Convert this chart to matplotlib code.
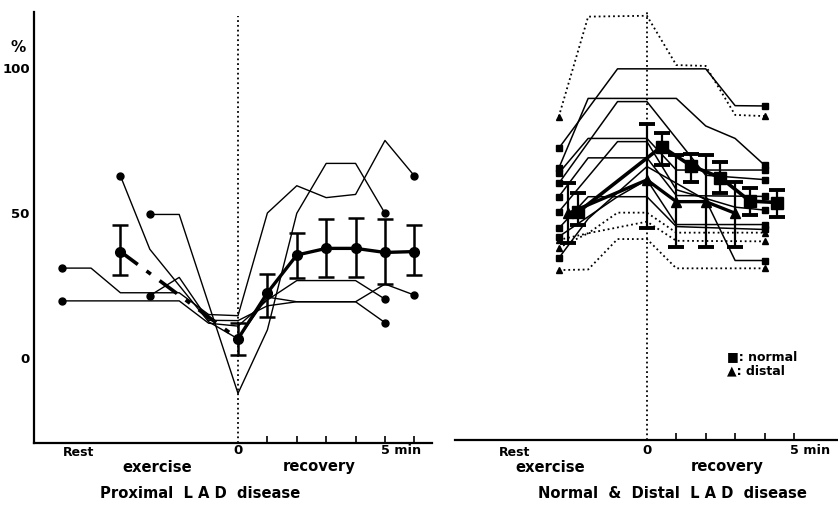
import matplotlib
matplotlib.use("Agg")
import matplotlib.pyplot as plt
import numpy as np

plt.rcParams['font.family'] = ['DejaVu Sans']
plt.rcParams['font.weight'] = 'bold'

# ---------------- Data: left panel (Proximal LAD disease) ----------------
prox_t = [
    [-6, -5, -4, -2, -1, 0, 1, 2, 3, 4, 5, 6],
    [-6, -2, -1, 0, 1, 2, 3, 4, 5],
    [-4, -3, -1, 0, 1, 2, 3, 4, 5],
    [-3, -2, 0, 1, 2, 3, 4, 5],
    [-3, -2, -1, 0, 1, 2, 3, 4, 5, 6],
]
prox_v = [
    [31, 31, 22.5, 22.5, 15, 14.6, 50, 59.4, 55.3, 56.4, 75, 62.8],
    [19.7, 19.7, 12, 11, 20, 26.7, 26.7, 26.7, 20.3],
    [62.8, 37.5, 12.5, 6.6, 21, 19.4, 19.4, 19.4, 12.2],
    [49.5, 49.5, -12.2, 9.7, 49.9, 67.1, 67.1, 49.9],
    [21.5, 27.8, 13, 12.9, 18, 19.4, 19.4, 19.4, 25.5, 21.7],
]
prox_mean_t = [-4, 0, 1, 2, 3, 4, 5, 6]
prox_mean_v = [36.7, 6.6, 22.5, 35.5, 37.8, 37.8, 36.4, 36.7]
prox_mean_lo = [28.5, 1.0, 14, 27.5, 28, 28, 25.5, 28.6]
prox_mean_hi = [46, 12.2, 29, 43, 48, 48.3, 48, 45.9]

# ---------------- Data: right panel (Normal & Distal LAD disease) --------
normal_t = [
    [-3, -1, 2, 3, 4],
    [-3, -2, 1, 2, 3, 4],
    [-3, -1, 0, 2, 4],
    [-3, -2, 0, 1, 4],
    [-3, -2, 0, 1, 4],
    [-3, -1, 0, 1, 3, 4],
    [-3, -2, -1, 0, 1, 4],
    [-3, -1, 0, 1, 4],
    [-3, -2, 0, 2, 3, 4],
]
normal_v = [
    [72.3, 99.7, 99.7, 87, 86.9],
    [65.4, 89.5, 89.5, 80, 75.7, 66.5],
    [60.2, 88.4, 88.4, 63, 61.5],
    [63.7, 75.7, 75.7, 64.8, 64.8],
    [55.6, 69, 69, 56, 55.7],
    [50.4, 74.6, 74.6, 58, 52, 51],
    [44.7, 55.6, 55.6, 61.4, 46, 46],
    [41.8, 55.6, 55.6, 45.3, 44.3],
    [34.4, 48, 66, 54.5, 33.6, 33.6],
]
distal_t = [
    [-3, -2, 0, 1, 2, 3, 4],
    [-3, -2, -1, 0, 1, 4],
    [-3, -2, -1, 0, 1, 4],
    [-3, -2, 0, 1, 4],
]
distal_v = [
    [83.2, 117.7, 118, 101, 100.7, 83.8, 83.4],
    [30.3, 30.5, 41, 41, 30.9, 30.9],
    [40.7, 43, 50.1, 50.1, 43.2, 43.2],
    [38, 43, 47, 40.4, 40.2],
]
nmean_t = [-2.33, 0.5, 1.5, 2.5, 3.5, 4.43]
nmean_v = [50.4, 72.9, 66.3, 62.2, 54.1, 53.6]
nmean_lo = [45.9, 66.5, 60.8, 56.8, 49.3, 48.7]
nmean_hi = [56.8, 77.5, 70.3, 67.5, 58.5, 57.9]
dmean_t = [-2.67, 0, 1, 2, 3]
dmean_v = [49.9, 61.4, 53.9, 53.9, 49.9]
dmean_lo = [39.5, 44.7, 38.4, 38.4, 38.4]
dmean_hi = [60.5, 80.7, 70, 70, 60.8]

# ---------------- Figure ----------------
W, H = 838, 508
fig = plt.figure(figsize=(W / 100, H / 100), dpi=100)

def rect(x0, y0, x1, y1):
    return [x0 / W, 1 - y1 / H, (x1 - x0) / W, (y1 - y0) / H]

def ftext(x, y, s, **kw):
    fig.text(x / W, 1 - y / H, s, **kw)

axL = fig.add_axes(rect(34, 12, 432, 443))
axR = fig.add_axes(rect(455, 12, 838, 440))

axL.set_xlim(-6.94, 6.6)
axL.set_ylim(-29.3, 119.3)
axR.set_xlim(-6.53, 6.5)
axR.set_ylim(-28.3, 119.3)

for ax in (axL, axR):
    for s in ax.spines.values():
        s.set_visible(False)
    ax.spines['bottom'].set_visible(True)
    ax.spines['bottom'].set_linewidth(1.6)
    ax.patch.set_alpha(0)
axL.spines['left'].set_visible(True)
axL.spines['left'].set_linewidth(1.6)

axL.set_xticks([1, 2, 3, 4, 5, 6])
axR.set_xticks([1, 2, 3, 4, 5])
for ax in (axL, axR):
    ax.tick_params(axis='x', direction='in', length=5, width=1.2, labelbottom=False)
axL.set_yticks([0, 50, 100])
axL.set_yticklabels(['0', '50', '100'], fontsize=9.5, fontweight='bold')
axL.tick_params(axis='y', length=0, pad=3)
axR.set_yticks([])

axL.axvline(0, ls=':', lw=1.3, color='k', ymax=0.99)
axR.axvline(0, ls=':', lw=1.3, color='k', ymax=1.0)

# left panel individual patients
for t, v in zip(prox_t, prox_v):
    axL.plot(t, v, color='k', lw=1.0)
    axL.plot([t[0], t[-1]], [v[0], v[-1]], 'o', color='k', ms=5)

# left panel mean
axL.plot(prox_mean_t[:2], prox_mean_v[:2], color='k', lw=2.6, ls=(0, (6, 3, 1.5, 3)))
axL.plot(prox_mean_t[1:], prox_mean_v[1:], color='k', lw=2.4, marker='o', ms=7)
axL.plot(prox_mean_t[:1], prox_mean_v[:1], 'o', color='k', ms=7)
pm = np.array(prox_mean_v)
axL.errorbar(prox_mean_t, prox_mean_v,
             yerr=[pm - np.array(prox_mean_lo), np.array(prox_mean_hi) - pm],
             fmt='none', ecolor='k', elinewidth=1.8, capsize=6, capthick=1.8)

# right panel normals / distals
for t, v in zip(normal_t, normal_v):
    axR.plot(t, v, color='k', lw=1.1)
    axR.plot([t[0], t[-1]], [v[0], v[-1]], 's', color='k', ms=5)
for t, v in zip(distal_t, distal_v):
    axR.plot(t, v, color='k', lw=1.3, ls=':')
    axR.plot([t[0], t[-1]], [v[0], v[-1]], '^', color='k', ms=5)

nm = np.array(nmean_v)
axR.errorbar(nmean_t, nmean_v,
             yerr=[nm - np.array(nmean_lo), np.array(nmean_hi) - nm],
             fmt='none', ecolor='k', elinewidth=1.6, capsize=6, capthick=2.8)
axR.plot(nmean_t, nmean_v, color='k', lw=2.6, marker='s', ms=8)
dm = np.array(dmean_v)
axR.errorbar(dmean_t, dmean_v,
             yerr=[dm - np.array(dmean_lo), np.array(dmean_hi) - dm],
             fmt='none', ecolor='k', elinewidth=1.6, capsize=6, capthick=2.8)
axR.plot(dmean_t, dmean_v, color='k', lw=2.4, marker='^', ms=7)

# ---------------- Text ----------------
bold = dict(fontweight='bold', color='k')
ftext(18, 48, '%', fontsize=11, ha='center', va='center', **bold)

# left axis labels
ftext(79, 452, 'Rest', fontsize=9, ha='center', va='center', **bold)
ftext(238, 451, '0', fontsize=9.5, ha='center', va='center', **bold)
ftext(381, 451, '5 min', fontsize=9.2, ha='left', va='center', **bold)
ftext(157, 467, 'exercise', fontsize=10.6, ha='center', va='center', **bold)
ftext(319, 467, 'recovery', fontsize=10.6, ha='center', va='center', **bold)
ftext(200, 493, 'Proximal  L A D  disease', fontsize=10.6, ha='center', va='center', **bold)

# right axis labels
ftext(515, 452, 'Rest', fontsize=9, ha='center', va='center', **bold)
ftext(647, 451, '0', fontsize=9.5, ha='center', va='center', **bold)
ftext(790, 451, '5 min', fontsize=9.2, ha='left', va='center', **bold)
ftext(550, 467, 'exercise', fontsize=10.6, ha='center', va='center', **bold)
ftext(727, 467, 'recovery', fontsize=10.6, ha='center', va='center', **bold)
ftext(672, 493, 'Normal  &  Distal  L A D  disease', fontsize=10.6, ha='center', va='center', **bold)

# legend
ftext(727, 357, '\u25A0: normal', fontsize=9, ha='left', va='center', **bold)
ftext(727, 371, '\u25B2: distal', fontsize=9, ha='left', va='center', **bold)

fig.savefig('out.png', dpi=100)
